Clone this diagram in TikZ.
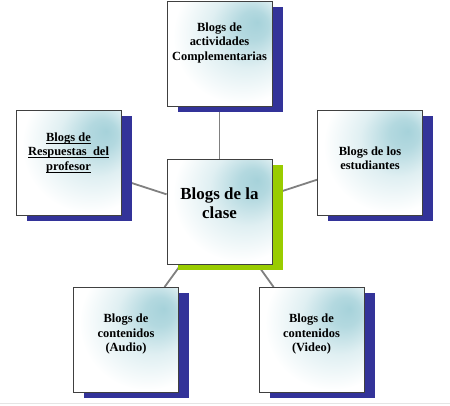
\documentclass[tikz,border=0pt]{standalone}
\usepackage{fontspec}
\setmainfont{Liberation Serif}
\usetikzlibrary{shadows, backgrounds}
\definecolor{sombra}{HTML}{333399}
\definecolor{verde}{HTML}{99CC00}
\definecolor{brillo}{HTML}{A6D2DA}
\definecolor{borde}{HTML}{404040}
\definecolor{linea}{HTML}{808080}
\pgfdeclareradialshading{brillocaja}{\pgfpoint{18bp}{15bp}}{color(0bp)=(brillo); color(7bp)=(brillo!85!white); color(18bp)=(brillo!35!white); color(32bp)=(white); color(70bp)=(white)}
\newcommand{\rayado}[1]{\setbox0\hbox{#1}\rlap{\rule[-2.5bp]{\wd0}{0.9bp}}\box0}
\tikzset{
	caja/.style = {draw = borde, line width = 0.8bp, shading = brillocaja, minimum width = 105bp, minimum height = 105bp, inner sep = 0pt, drop shadow = {shadow xshift = 10.5bp, shadow yshift = -5.5bp, fill = #1, opacity = 1}},
	caja/.default = sombra,
	texto/.style = {font = \bfseries\fontsize{12.5}{14.5}\selectfont, align = center, inner sep = 0pt, anchor = north},
	conector/.style = {draw = linea, line width = 1.8bp}
}
\begin{document}
\begin{tikzpicture}[x = 1bp, y = -1bp]
		\useasboundingbox (0, 0) rectangle (450, 405);
		\draw[gray!20, line width = 1bp] (0, 403.5) -- (450, 403.5);
		% cajas
		\node[caja] (actividades) at (219.5, 53.5) {};
		\node[caja] (profesor) at (68.5, 162.5) {};
		\node[caja] (estudiantes) at (370, 162.5) {};
		\node[caja = verde] (centro) at (219.5, 211.5) {};
		\node[caja] (audio) at (126, 340) {};
		\node[caja] (video) at (311.5, 340) {};
		% textos
		\node[texto] (actividades-t) at ([yshift = -22bp]actividades.north) {Blogs de\\actividades\\Complementarias};
		\node[texto] (profesor-t) at ([yshift = -23bp]profesor.north) {\rayado{Blogs de}\\\rayado{Respuestas\ \ del}\\\rayado{profesor}};
		\node[texto] (estudiantes-t) at ([yshift = -37bp]estudiantes.north) {Blogs de los\\estudiantes};
		\node[texto, font = \bfseries\fontsize{17}{19.5}\selectfont] (centro-t) at ([yshift = -29bp]centro.north) {Blogs de la\\clase};
		\node[texto] (audio-t) at ([yshift = -27bp]audio.north) {Blogs de\\contenidos\\(Audio)};
		\node[texto] (video-t) at ([yshift = -27bp]video.north) {Blogs de\\contenidos\\(Video)};
		% conectores
		\begin{scope}[on background layer]
			\draw[conector] (centro) -- (actividades);
			\draw[conector] (centro) -- (profesor);
			\draw[conector] (centro) -- (estudiantes);
			\draw[conector] (centro) -- (audio);
			\draw[conector] (centro) -- (video);
		\end{scope}
	\end{tikzpicture}
\end{document}
